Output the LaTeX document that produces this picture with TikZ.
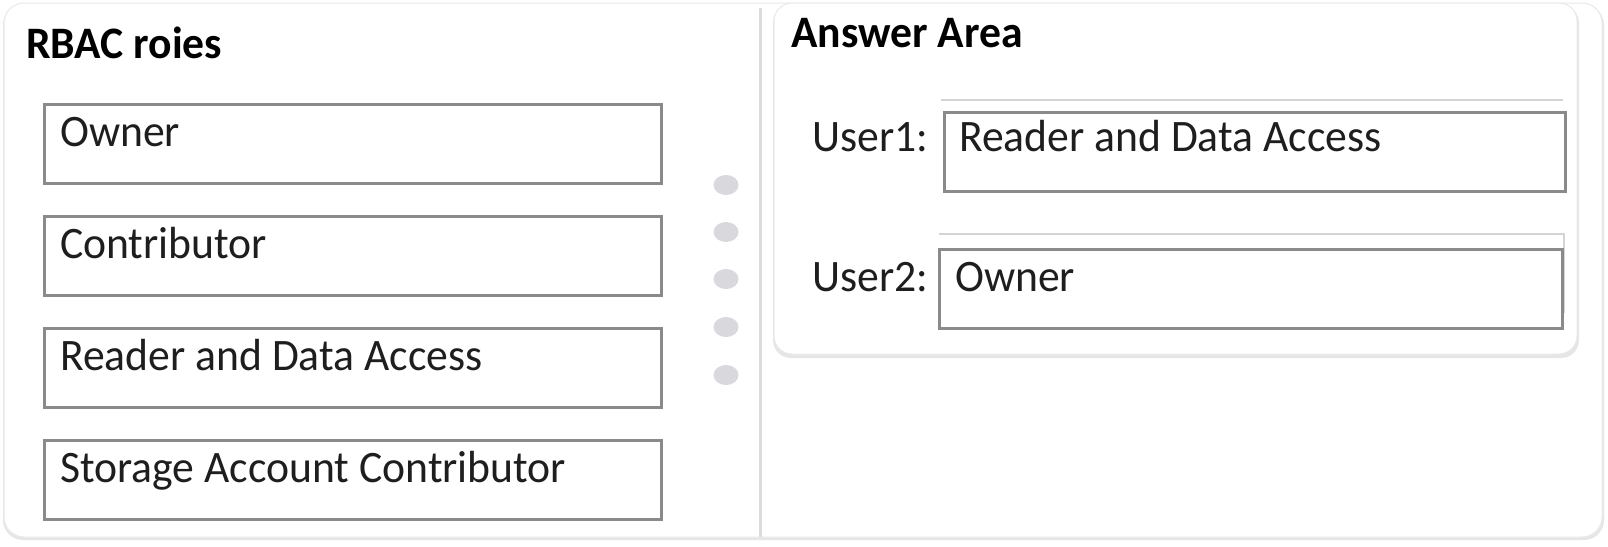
\documentclass[tikz,border=0pt]{standalone}
\usepackage{fontspec}
\setmainfont{Carlito}[FakeStretch=0.97]
\usetikzlibrary{shapes.geometric}
\definecolor{ink}{HTML}{1E1E1E}
\definecolor{boxgray}{HTML}{8A8A8A}
\definecolor{linegray}{HTML}{D4D4D4}
\definecolor{dotgray}{HTML}{D9D8DC}
\definecolor{sepgray}{HTML}{DCDCDC}
\definecolor{cardedge}{HTML}{E9E9E9}
\definecolor{shade}{HTML}{E6E6E6}
\tikzset{
  role/.style={draw=boxgray, line width=2.5pt, minimum width=617pt, minimum height=79pt, anchor=north west, inner sep=0pt, fill=white},
  txt/.style={anchor=base west, inner sep=0pt, text=ink, font=\fontsize{45}{54}\selectfont},
  ttl/.style={anchor=base west, inner sep=0pt, text=black, font=\fontsize{45}{54}\selectfont\bfseries},
  dot/.style={ellipse, fill=dotgray, minimum width=25pt, minimum height=20pt, inner sep=0pt},
  card/.style={fill=white, draw=cardedge, line width=1pt},
  cardshadow/.style={fill=shade},
  thinline/.style={draw=linegray, line width=2pt},
}
\begin{document}
\begin{tikzpicture}[x=1pt,y=-1pt]
\useasboundingbox[fill=white] (0,0) rectangle (1608,546);
% outer card
\path[cardshadow, rounded corners=20pt] (3,5) rectangle (1604,540);
\path[card, rounded corners=20pt] (4,3) rectangle (1602,537);
% separator
\draw[draw=sepgray, line width=3pt] (760,8) -- (760,537);
% answer card
\path[cardshadow, rounded corners=18pt] (773,5) rectangle (1579,358);
\path[card, rounded corners=18pt] (774,3) rectangle (1577,354);
% titles
\node[ttl] (t1) at (26,58) {RBAC roies};
\node[ttl] (t2) at (791,47) {Answer Area};
% role boxes
\node[role] (b1) at (43,103) {};
\node[role] (b2) at (43,215) {};
\node[role] (b3) at (43,327) {};
\node[role] (b4) at (43,439) {};
\node[txt] (l1) at (60,146) {Owner};
\node[txt] (l2) at (60,258) {Contributor};
\node[txt] (l3) at (60,370) {Reader and Data Access};
\node[txt] (l4) at (60,482) {Storage Account Contributor};
% dots
\node[dot] (d1) at (726,185) {};
\node[dot] (d2) at (726,232) {};
\node[dot] (d3) at (726,279) {};
\node[dot] (d4) at (726,327) {};
\node[dot] (d5) at (726,375) {};
% answer rows
\draw[thinline] (941,100) -- (1563,100);
\node[role, minimum width=621pt] (u1) at (943,111) {};
\node[txt] (u1t) at (959,151) {Reader and Data Access};
\node[txt] (u1l) at (812,151) {User1:};
\draw[thinline] (939,234) -- (1564,234) -- (1564,313);
\node[role, minimum width=623pt] (u2) at (938,248) {};
\node[txt] (u2t) at (955,291) {Owner};
\node[txt] (u2l) at (812,291) {User2:};
\end{tikzpicture}
\end{document}
